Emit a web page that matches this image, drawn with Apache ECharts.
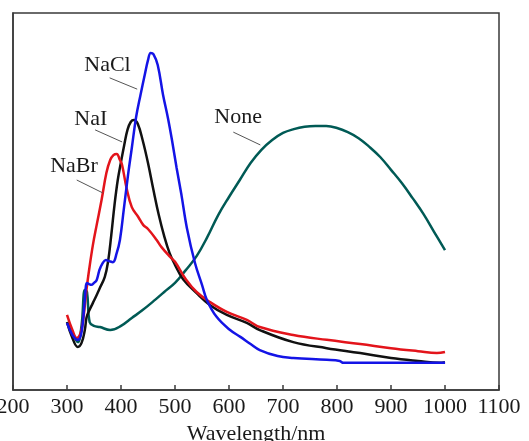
<!DOCTYPE html>
<html>
<head>
<meta charset="utf-8">
<script src="https://cdn.jsdelivr.net/npm/echarts@6/dist/echarts.min.js"></script>
<style>
  html, body { margin: 0; padding: 0; background: #fff; }
  #chart { width: 529px; height: 441px; }
</style>
</head>
<body>
<div id="chart"></div>
<script>
// x tick labels
const xTicks = [200, 300, 400, 500, 600, 700, 800, 900, 1000, 1100]

// NaCl (blue)
const naclWl = [300, 310, 320, 327, 333, 337, 341, 345, 350, 355, 360, 365, 372, 378, 385, 392, 398, 405, 413, 420, 428, 436, 444, 450, 455, 460, 468, 478, 487, 495, 503, 512, 522, 537, 550, 559, 577, 602, 621, 640, 657, 690, 719, 781, 805, 812, 900, 1000]
const naclVal = [17.8, 14.6, 13.3, 15.4, 23.9, 28.4, 28.1, 27.9, 28.4, 29.2, 31.8, 33.4, 34.5, 34.2, 33.9, 36.3, 39.8, 47.7, 57.0, 64.2, 72.4, 78.2, 83.6, 87.5, 89.4, 89.1, 86.2, 78.2, 72.1, 65.8, 58.9, 51.7, 43.0, 33.7, 27.9, 23.9, 19.4, 15.9, 14.1, 12.2, 10.6, 9.0, 8.5, 8.0, 7.7, 7.2, 7.2, 7.2]

// NaI (black)
const naiWl = [300, 310, 320, 327, 333, 336, 339, 348, 355, 361, 370, 376, 382, 388, 394, 400, 406, 412, 418, 424, 431, 440, 450, 460, 470, 480, 490, 500, 515, 540, 565, 596, 633, 657, 719, 781, 843, 900, 950, 990, 1000]
const naiVal = [18.0, 13.8, 11.4, 12.5, 15.9, 19.1, 20.4, 23.1, 25.2, 27.1, 30.0, 34.0, 41.1, 49.1, 55.7, 60.5, 65.0, 69.0, 71.1, 71.6, 70.6, 66.3, 60.2, 53.1, 46.4, 40.8, 36.3, 33.2, 29.4, 25.7, 22.5, 19.9, 17.8, 15.9, 12.7, 11.1, 9.8, 8.5, 7.7, 7.2, 7.4]

// NaBr (red)
const nabrWl = [300, 310, 318, 325, 330, 336, 342, 348, 355, 364, 373, 380, 386, 392, 398, 402, 410, 420, 432, 441, 450, 466, 475, 491, 500, 520, 540, 565, 596, 633, 657, 719, 781, 843, 900, 950, 985, 1000]
const nabrVal = [19.9, 15.9, 13.8, 15.1, 18.6, 26.5, 32.9, 38.5, 43.8, 50.4, 57.6, 61.0, 62.3, 62.6, 61.0, 59.7, 53.8, 48.5, 45.9, 43.8, 42.7, 39.8, 37.9, 35.3, 34.0, 29.4, 26.0, 23.3, 20.7, 18.6, 16.7, 14.6, 13.3, 12.2, 11.1, 10.3, 9.8, 10.1]

// None (teal)
const noneWl = [300, 310, 320, 327, 333, 337, 342, 350, 361, 380, 400, 420, 440, 463, 480, 500, 520, 540, 560, 580, 600, 620, 640, 660, 680, 700, 720, 740, 760, 780, 800, 820, 840, 860, 880, 900, 920, 940, 960, 980, 1000]
const noneVal = [18.0, 15.1, 12.7, 17.2, 26.5, 26.0, 18.0, 17.0, 16.7, 15.9, 17.0, 19.1, 21.2, 23.9, 26.0, 28.4, 31.8, 35.5, 40.6, 46.4, 51.2, 55.7, 60.2, 63.7, 66.3, 68.2, 69.2, 69.8, 70.0, 70.0, 69.5, 68.4, 66.8, 64.5, 61.8, 58.4, 54.9, 50.9, 46.7, 41.9, 37.1]

// pair wavelength with value for a value-type x axis
function zip(xs, ys) {
  return xs.map((x, i) => [x, ys[i]])
}

// curve labels: text anchor and leader line, in data units
const curveLabels = [
  { text: 'NaCl', at: [375, 86.2], from: [379, 82.8], to: [430, 79.8] },
  { text: 'NaI', at: [344, 71.9], from: [352, 69.0], to: [402, 65.8] },
  { text: 'NaBr', at: [313, 59.4], from: [318, 55.7], to: [366, 52.3] },
  { text: 'None', at: [617, 72.3], from: [608, 68.4], to: [658, 65.0] }
]

const fontFamily = '"Liberation Serif", "DejaVu Serif", serif'

const chart = echarts.init(document.getElementById('chart'), null, { renderer: 'canvas' })

function lineSeries(name, data, color) {
  return {
    name: name,
    type: 'line',
    data: data,
    showSymbol: false,
    smooth: 0.4,
    lineStyle: { color: color, width: 2.5 },
    itemStyle: { color: color },
    silent: true
  }
}

const option = {
  animation: false,
  backgroundColor: '#fff',
  grid: {
    left: 13,
    right: 30,
    top: 13,
    bottom: 51,
    outerBoundsMode: 'none',
    containLabel: false,
    show: true,
    borderColor: '#3a3a3a',
    borderWidth: 1.5
  },
  xAxis: {
    type: 'value',
    min: 200,
    max: 1100,
    interval: 100,
    name: 'Wavelength/nm',
    nameLocation: 'middle',
    nameGap: 32,
    nameTextStyle: { fontFamily: fontFamily, fontSize: 22, color: '#1a1a1a' },
    axisLine: { show: true, lineStyle: { color: '#3a3a3a', width: 1.5 } },
    axisTick: { show: true, inside: true, length: 5, lineStyle: { color: '#3a3a3a', width: 1.5 } },
    axisLabel: {
      fontFamily: fontFamily,
      fontSize: 22,
      color: '#1a1a1a',
      margin: 6,
      showMinLabel: true,
      showMaxLabel: true,
      hideOverlap: false,
      formatter: v => xTicks.includes(v) ? String(v) : ''
    },
    splitLine: { show: false }
  },
  yAxis: {
    type: 'value',
    min: 0,
    max: 100,
    axisLine: { show: true, lineStyle: { color: '#3a3a3a', width: 1.5 } },
    axisTick: { show: false },
    axisLabel: { show: false },
    splitLine: { show: false }
  },
  series: [
    lineSeries('None', zip(noneWl, noneVal), '#005a55'),
    lineSeries('NaI', zip(naiWl, naiVal), '#111111'),
    lineSeries('NaBr', zip(nabrWl, nabrVal), '#e3141b'),
    lineSeries('NaCl', zip(naclWl, naclVal), '#1414e6')
  ]
}
chart.setOption(option)

// curve name labels with short leader lines
const graphics = []
curveLabels.forEach(l => {
  const p = chart.convertToPixel({ gridIndex: 0 }, l.at)
  const a = chart.convertToPixel({ gridIndex: 0 }, l.from)
  const b = chart.convertToPixel({ gridIndex: 0 }, l.to)
  graphics.push({
    type: 'line',
    shape: { x1: a[0], y1: a[1], x2: b[0], y2: b[1] },
    style: { stroke: '#555', lineWidth: 1 },
    z: 10
  })
  graphics.push({
    type: 'text',
    x: p[0],
    y: p[1],
    style: {
      text: l.text,
      fontFamily: fontFamily,
      fontSize: 22,
      fill: '#1a1a1a',
      align: 'center',
      verticalAlign: 'middle'
    },
    z: 10
  })
})
chart.setOption({ graphic: graphics })
</script>
</body>
</html>
